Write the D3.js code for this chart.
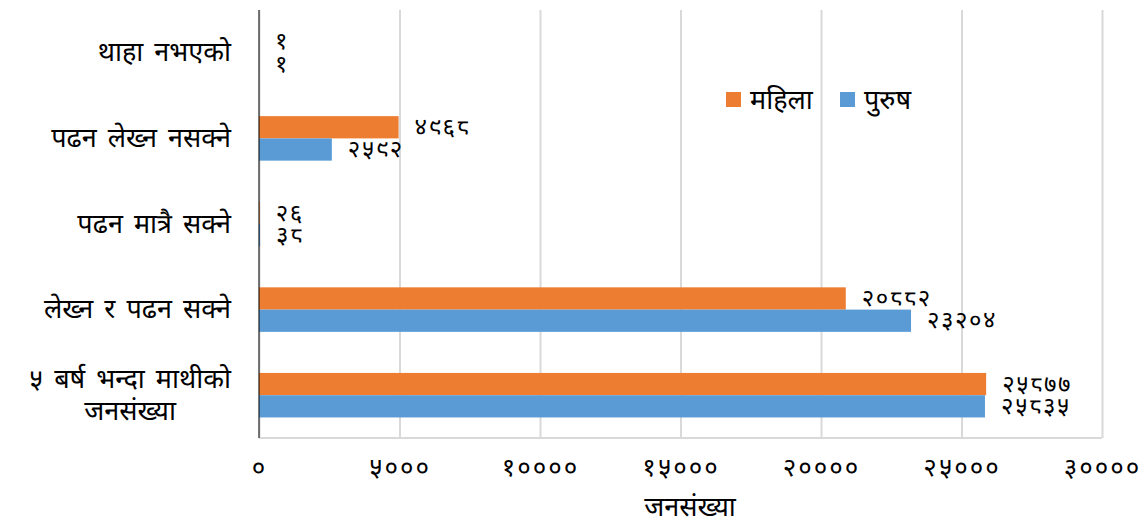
<!DOCTYPE html>
<html lang="ne">
  <head>
    <meta charset="utf-8" />
    <title>जनसंख्या</title>
    <script src="https://d3js.org/d3.v7.min.js"></script>
    <style>
      body {
        margin: 0;
        background: #fff;
      }
      text {
        font-family: "Noto Sans Devanagari", "Noto Sans", "Lohit Devanagari",
          sans-serif;
        fill: #000;
      }
      .gridlines line {
        stroke: #d9d9d9;
        stroke-width: 2;
      }
      .gridlines .domain {
        stroke: none;
      }
    </style>
  </head>
  <body>
    <svg id="chart" width="1148" height="529"></svg>
    <script>
      // data
      const categories = [
        "थाहा नभएको",
        "पढन लेख्न नसक्ने",
        "पढन मात्रै सक्ने",
        "लेख्न र पढन सक्ने",
        "५ बर्ष भन्दा माथीको|जनसंख्या",
      ];
      const female = [1, 4968, 26, 20882, 25877]; // महिला
      const male = [1, 2592, 38, 23204, 25835]; // पुरुष
      const seriesNames = ["महिला", "पुरुष"];
      const tickValues = [0, 5000, 10000, 15000, 20000, 25000, 30000];
      const tickLabels = ["०", "५०००", "१००००", "१५०००", "२००००", "२५०००", "३००००"];

      const colors = ["#ed7d31", "#5b9bd5"];
      const devDigits = "०१२३४५६७८९";
      const toDev = (n) =>
        String(n).replace(/[0-9]/g, (d) => devDigits[+d]);

      const svg = d3.select("svg#chart");
      const margin = { top: 10, right: 46, bottom: 91, left: 259 };
      const width = +svg.attr("width");
      const height = +svg.attr("height");
      const chartWidth = width - margin.left - margin.right;
      const chartHeight = height - margin.top - margin.bottom;

      const chartArea = svg
        .append("g")
        .attr("transform", `translate(${margin.left},${margin.top})`);

      const xScale = d3.scaleLinear().domain([0, 30000]).range([0, chartWidth]);
      const yScale = d3
        .scaleBand()
        .domain(categories)
        .range([0, chartHeight])
        .paddingInner(0.48)
        .paddingOuter(0.24);
      const sub = d3
        .scaleBand()
        .domain([0, 1])
        .range([0, yScale.bandwidth()]);

      // gridlines
      chartArea
        .append("g")
        .attr("class", "gridlines")
        .attr("transform", `translate(0,${chartHeight})`)
        .call(
          d3
            .axisBottom(xScale)
            .tickValues(tickValues)
            .tickSize(-chartHeight)
            .tickFormat("")
        );

      // bottom axis line
      chartArea
        .append("line")
        .attr("x1", 0)
        .attr("x2", chartWidth)
        .attr("y1", chartHeight)
        .attr("y2", chartHeight)
        .attr("stroke", "#d9d9d9")
        .attr("stroke-width", 2);

      // tick labels
      const xAxis = chartArea
        .append("g")
        .attr("transform", `translate(0,${chartHeight})`)
        .call(
          d3
            .axisBottom(xScale)
            .tickValues(tickValues)
            .tickSize(0)
            .tickPadding(20)
            .tickFormat((d, i) => tickLabels[i])
        );
      xAxis.select(".domain").remove();
      xAxis
        .selectAll("text")
        .style("font-size", "26px")
        .style("letter-spacing", "2px")
        .style("font-family", null);

      // bars
      const rows = categories.map((c, i) => ({ cat: c, vals: [female[i], male[i]] }));
      rows.forEach((row) => {
        row.vals.forEach((v, s) => {
          const y = yScale(row.cat) + sub(s);
          chartArea
            .append("rect")
            .attr("x", 0)
            .attr("y", y)
            .attr("width", xScale(v))
            .attr("height", sub.bandwidth())
            .attr("fill", colors[s]);

          chartArea
            .append("text")
            .attr("x", xScale(v) + 16)
            .attr("y", y + sub.bandwidth() / 2)
            .attr("dy", "0.32em")
            .style("font-size", "24px")
            .style("letter-spacing", "1.5px")
            .text(toDev(v));
        });
      });

      // left axis line
      chartArea
        .append("line")
        .attr("x1", 0)
        .attr("x2", 0)
        .attr("y1", 0)
        .attr("y2", chartHeight)
        .attr("stroke", "#000")
        .attr("stroke-width", 1);

      // category labels
      categories.forEach((c) => {
        const lines = c.split("|");
        const cy = yScale(c) + yScale.bandwidth() / 2;
        const lineH = 32;
        const y0 = cy - ((lines.length - 1) * lineH) / 2;
        const first = chartArea
          .append("text")
          .attr("text-anchor", "end")
          .attr("x", -28)
          .attr("y", y0)
          .attr("dy", "0.32em")
          .style("font-size", "27px")
          .style("word-spacing", "4px")
          .text(lines[0]);
        if (lines.length > 1) {
          const w = first.node().getComputedTextLength();
          chartArea
            .append("text")
            .attr("text-anchor", "middle")
            .attr("x", -28 - w / 2)
            .attr("y", y0 + lineH)
            .attr("dy", "0.32em")
            .style("font-size", "27px")
            .text(lines[1]);
        }
      });

      // axis title
      svg
        .append("text")
        .attr("x", 690)
        .attr("y", 507)
        .attr("text-anchor", "middle")
        .attr("dy", "0.32em")
        .style("font-size", "27px")
        .text("जनसंख्या");

      // legend
      const legend = svg.append("g").attr("transform", "translate(726,92)");
      const legendX = [0, 114];
      seriesNames.forEach((name, i) => {
        legend
          .append("rect")
          .attr("x", legendX[i])
          .attr("y", 0)
          .attr("width", 15)
          .attr("height", 15)
          .attr("fill", colors[i]);
        legend
          .append("text")
          .attr("x", legendX[i] + 24)
          .attr("y", 8)
          .attr("dy", "0.32em")
          .style("font-size", "27px")
          .text(name);
      });
    </script>
  </body>
</html>
